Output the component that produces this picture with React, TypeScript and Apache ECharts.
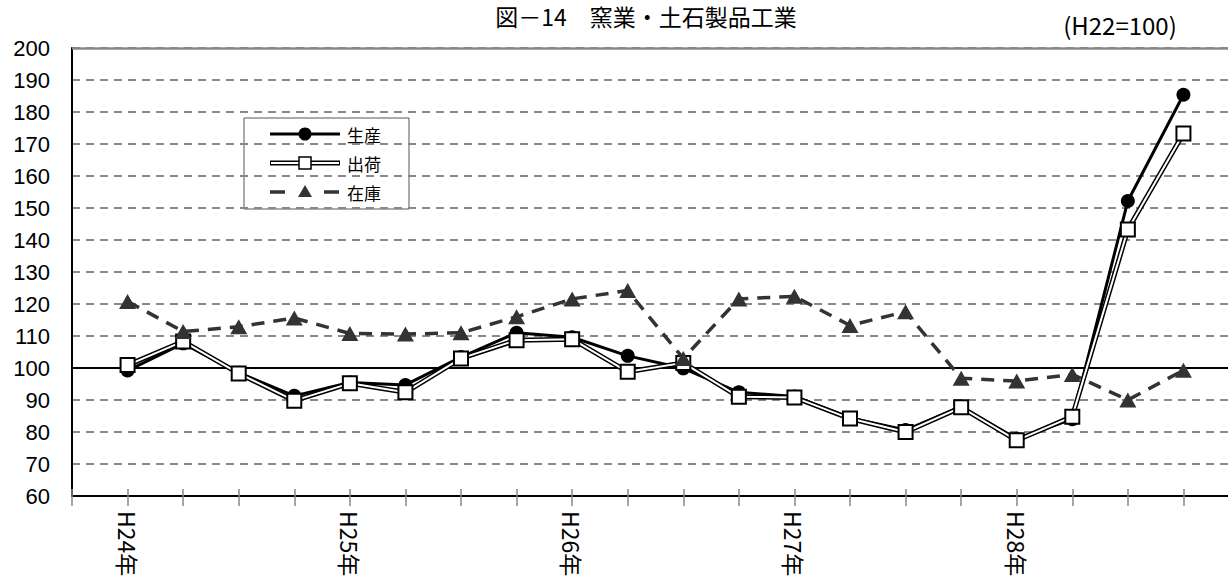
import React, { useEffect, useRef } from "react";
import * as echarts from "echarts";

// Category ticks: one empty slot at each end, quarterly points H24–H28
const xCategories = ["", "H24年", "", "", "", "H25年", "", "", "", "H26年", "", "", "", "H27年", "", "", "", "H28年", "", "", "", ""];

const seriesNames = ["生産", "出荷", "在庫"];

const production = [99.2, 107.7, 98.5, 91.3, 95.5, 94.7, 103.4, 111.0, 109.6, 103.8, 99.9, 92.4, 91.1, 84.4, 80.6, 87.9, 77.9, 84.0, 152.2, 185.4];
const shipment = [100.9, 108.3, 98.3, 89.8, 95.2, 92.4, 103.0, 108.7, 109.0, 98.8, 101.6, 91.0, 90.8, 84.2, 80.0, 87.7, 77.4, 84.8, 143.3, 173.3];
const inventory = [120.8, 111.4, 112.9, 115.6, 110.8, 110.6, 111.0, 116.0, 121.6, 124.2, 103.0, 121.6, 122.4, 113.3, 117.6, 96.8, 95.9, 98.0, 90.0, 99.3];

const yMin = 60;
const yMax = 200;
const yStep = 10;
const baseLine = 100;

const titleText = "図－14　窯業・土石製品工業";
const baseText = "(H22=100)";

const pad = (arr: number[]) => [null, ...arr, null];

const JP = '"Noto Sans CJK JP", "Noto Sans", sans-serif';
const NUM = '"Liberation Sans", Arial, sans-serif';

export default function App() {
  const ref = useRef<HTMLDivElement>(null);

  useEffect(() => {
    if (!ref.current) return;
    const chart = echarts.init(ref.current, null, { renderer: "svg" });

    const lx = 244, ly = 118;
    const legend = {
      type: "group",
      z: 100,
      children: [
        { type: "rect", shape: { x: lx, y: ly, width: 165, height: 91 }, style: { fill: "#fff", stroke: "#555", lineWidth: 1 } },
        // 生産
        { type: "line", shape: { x1: 270, y1: 134, x2: 340, y2: 134 }, style: { stroke: "#000", lineWidth: 3 } },
        { type: "circle", shape: { cx: 305, cy: 134, r: 6.5 }, style: { fill: "#000" } },
        { type: "text", x: 347, y: 134, style: { text: seriesNames[0], font: `17px ${JP}`, fill: "#000", textVerticalAlign: "middle" } },
        // 出荷
        { type: "line", shape: { x1: 270, y1: 163, x2: 340, y2: 163 }, style: { stroke: "#000", lineWidth: 5 } },
        { type: "line", shape: { x1: 271, y1: 163, x2: 339, y2: 163 }, style: { stroke: "#fff", lineWidth: 2 } },
        { type: "rect", shape: { x: 299, y: 157, width: 12, height: 12 }, style: { fill: "#fff", stroke: "#000", lineWidth: 1.5 } },
        { type: "text", x: 347, y: 163, style: { text: seriesNames[1], font: `17px ${JP}`, fill: "#000", textVerticalAlign: "middle" } },
        // 在庫
        { type: "line", shape: { x1: 270, y1: 192, x2: 285, y2: 192 }, style: { stroke: "#333", lineWidth: 3.5 } },
        { type: "line", shape: { x1: 324, y1: 192, x2: 339, y2: 192 }, style: { stroke: "#333", lineWidth: 3.5 } },
        { type: "polygon", shape: { points: [[305, 185], [312, 197], [298, 197]] }, style: { fill: "#333" } },
        { type: "text", x: 347, y: 192, style: { text: seriesNames[2], font: `17px ${JP}`, fill: "#000", textVerticalAlign: "middle" } },
      ],
    };

    const option: any = {
      animation: false,
      backgroundColor: "#fff",
      grid: { left: 72, right: 1, top: 48, bottom: 84, containLabel: false },
      xAxis: [
        {
          type: "category",
          data: xCategories,
          boundaryGap: false,
          axisLine: { show: true, lineStyle: { color: "#000", width: 2 } },
          axisTick: { show: true, interval: 0, length: 10, lineStyle: { color: "#888", width: 1.5 } },
          axisLabel: { interval: 0, rotate: -90, margin: 15, color: "#000", fontSize: 23, fontFamily: JP },
          splitLine: { show: false },
        },
        {
          type: "category",
          data: xCategories,
          boundaryGap: false,
          position: "bottom",
          axisLine: { show: false },
          axisTick: { show: true, inside: true, interval: 0, length: 7, lineStyle: { color: "#888", width: 1.5 } },
          axisLabel: { show: false },
          splitLine: { show: false },
        },
      ],
      yAxis: {
        type: "value",
        min: yMin,
        max: yMax,
        interval: yStep,
        axisLine: { show: true, lineStyle: { color: "#000", width: 2 } },
        axisTick: { show: false },
        axisLabel: { color: "#000", fontSize: 22, fontFamily: NUM, margin: 22 },
        splitLine: { show: true, lineStyle: { color: "#888", width: 2, type: [8, 6] } },
      },
      series: [
        {
          name: seriesNames[0],
          type: "line",
          data: pad(production),
          symbol: "circle",
          symbolSize: 14,
          itemStyle: { color: "#000" },
          lineStyle: { color: "#000", width: 3 },
          z: 3,
          markLine: {
            silent: true,
            symbol: "none",
            label: { show: false },
            z: 1,
            data: [
              { yAxis: baseLine, lineStyle: { color: "#000", width: 2, type: "solid" } },
              { yAxis: yMax, lineStyle: { color: "#888", width: 2.5, type: "solid" } },
            ],
          },
        },
        {
          name: seriesNames[1] + "_outer",
          type: "line",
          data: pad(shipment),
          symbol: "none",
          lineStyle: { color: "#000", width: 5 },
          z: 4,
        },
        {
          name: seriesNames[1] + "_inner",
          type: "line",
          data: pad(shipment),
          symbol: "none",
          lineStyle: { color: "#fff", width: 2 },
          z: 5,
        },
        {
          name: seriesNames[1],
          type: "line",
          data: pad(shipment),
          symbol: "rect",
          symbolSize: 14,
          itemStyle: { color: "#fff", borderColor: "#000", borderWidth: 2 },
          lineStyle: { width: 0, opacity: 0 },
          z: 6,
        },
        {
          name: seriesNames[2],
          type: "line",
          data: pad(inventory),
          symbol: "triangle",
          symbolSize: [17, 15],
          itemStyle: { color: "#333" },
          lineStyle: { color: "#333", width: 3.5, type: [13, 9] },
          z: 7,
        },
      ],
      graphic: [
        { type: "text", x: 646, y: 16, z: 100, style: { text: titleText, font: `23px ${JP}`, fill: "#000", textAlign: "center", textVerticalAlign: "middle" } },
        { type: "text", x: 1120, y: 24, z: 100, style: { text: baseText, font: `24px ${JP}`, fill: "#000", textAlign: "center", textVerticalAlign: "middle" } },
        legend,
      ],
    };

    chart.setOption(option);
    return () => chart.dispose();
  }, []);

  return (
    <div style={{ position: "fixed", left: 0, top: 0, width: 1228, height: 580, overflow: "hidden", background: "#fff" }}>
      <div ref={ref} style={{ width: 1240, height: 580 }} />
    </div>
  );
}
